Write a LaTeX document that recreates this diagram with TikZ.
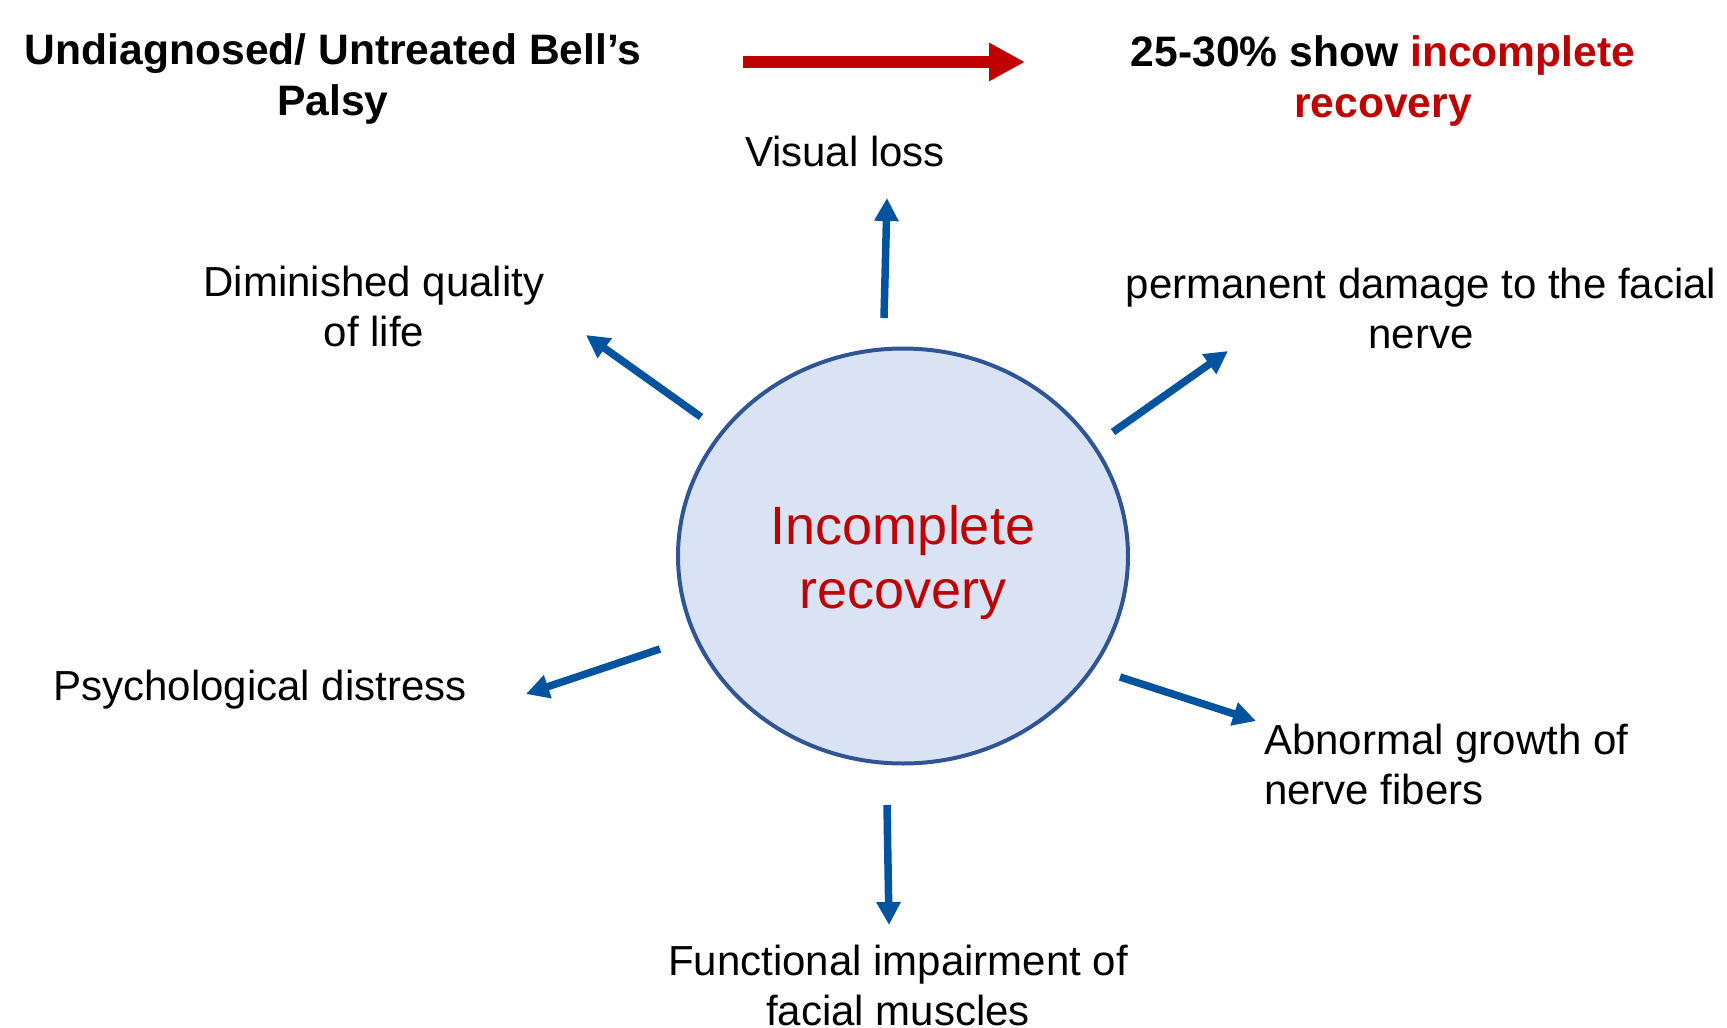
\documentclass[tikz,border=0pt]{standalone}
\usepackage{fontspec}
\setmainfont{Liberation Sans}
\usetikzlibrary{arrows.meta,shapes.geometric}
\definecolor{darkred}{HTML}{C00000}
\definecolor{arrowblue}{HTML}{00539F}
\definecolor{rimblue}{HTML}{2F5597}
\definecolor{paleblue}{HTML}{DAE3F3}

\begin{document}
\begin{tikzpicture}[x=1pt,y=-1pt,
  lbl/.style={font=\fontsize{42}{50}\selectfont, align=center, inner sep=0pt},
  headline/.style={font=\bfseries\fontsize{42.6}{51}\selectfont, align=center, inner sep=0pt},
  outarrow/.style={draw=arrowblue, line width=7.5pt, -{Triangle[length=23pt,width=23pt]}},
  mainarrow/.style={draw=darkred, line width=12pt, -{Triangle[length=36pt,width=36pt]}},
  hub/.style={ellipse, draw=rimblue, fill=paleblue, line width=4pt,
    minimum width=450pt, minimum height=415pt, inner sep=0pt},
  hubtext/.style={align=center, inner sep=0pt, text=darkred,
    font=\fontsize{54}{64}\selectfont}]

\useasboundingbox (0,0) rectangle (1727,1028);

% headline
\node[headline] (cause) at (333,79) {Undiagnosed/ Untreated Bell’s\\Palsy};
\node[headline] (outcome) at (1383,81) {25-30\% show \textcolor{darkred}{incomplete}\\\textcolor{darkred}{recovery}};
\coordinate (cause-e) at (743,62);
\coordinate (outcome-w) at (1025,62);
\draw[mainarrow] (cause-e) -- (outcome-w);

% central ellipse
\node[hub] (hub) at (903,556) {};
\node[hubtext] (hub-text) at (903,563) {Incomplete\\recovery};

% consequences
\node[lbl] (vis) at (845,151) {Visual loss};
\node[lbl] (qol) at (374,306) {Diminished quality\\of life};
\node[lbl] (nerve) at (1421,308) {permanent damage to the facial\\nerve};
\node[lbl] (psy) at (260,690) {Psychological distress};
\node[lbl, align=left, anchor=west] (fib) at (1264,764) {Abnormal growth of\\nerve fibers};
\node[lbl] (func) at (898,985) {Functional impairment of\\facial muscles};

% arrow ends
\coordinate (vis-a) at (884,318);   \coordinate (vis-b) at (887,198);
\coordinate (qol-a) at (701,417);   \coordinate (qol-b) at (586,335);
\coordinate (nerve-a) at (1113,432); \coordinate (nerve-b) at (1228,351);
\coordinate (psy-a) at (660,649);   \coordinate (psy-b) at (526,694);
\coordinate (fib-a) at (1120,677);  \coordinate (fib-b) at (1256,721);
\coordinate (func-a) at (887,805);  \coordinate (func-b) at (889,925);

\foreach \n in {vis,qol,nerve,psy,fib,func}
  \draw[outarrow] (\n-a) -- (\n-b);
\end{tikzpicture}
\end{document}
